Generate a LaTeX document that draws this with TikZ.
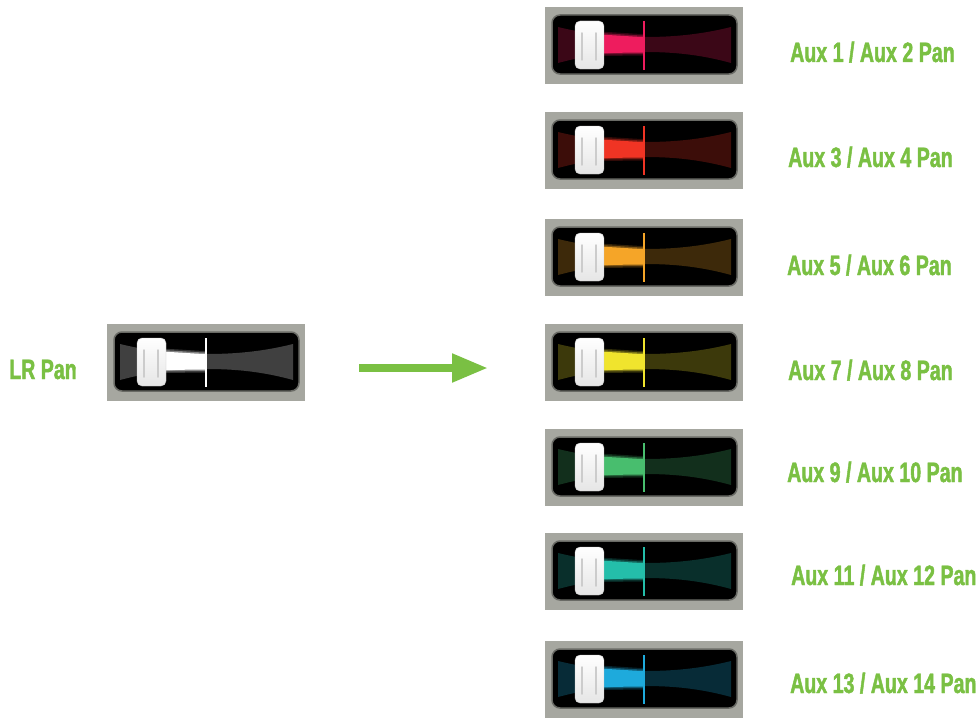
\documentclass[tikz,border=0pt]{standalone}
\usepackage{fontspec}
\newfontfamily\panfont{Liberation Sans}[FakeStretch=0.7, BoldFeatures={FakeBold=1.6}]
\usetikzlibrary{arrows.meta}

\definecolor{panelgray}{RGB}{166,167,160}
\definecolor{bezelgray}{RGB}{105,106,101}
\definecolor{labelgreen}{RGB}{122,192,67}
\definecolor{lrwhite}{RGB}{255,255,255}
\definecolor{auxpink}{RGB}{238,28,94}
\definecolor{auxred}{RGB}{240,52,36}
\definecolor{auxorange}{RGB}{245,165,40}
\definecolor{auxyellow}{RGB}{240,228,45}
\definecolor{auxgreen}{RGB}{72,190,110}
\definecolor{auxteal}{RGB}{36,190,170}
\definecolor{auxblue}{RGB}{30,170,220}

\tikzset{
  panlabel/.style={text=labelgreen, inner sep=0pt, anchor=base west,
    font=\panfont\bfseries\fontsize{28}{28}\selectfont},
  greenarrow/.style={draw=labelgreen, line width=8pt,
    -{Triangle[length=36pt, width=27pt]}}
}

\def\fanpath{(13,20) .. controls (50,29) and (80,30) .. (99,30)
  .. controls (120,30) and (150,29) .. (186,20) -- (186,56)
  .. controls (150,46) and (120,45) .. (99,45)
  .. controls (80,45) and (50,46) .. (13,56) -- cycle}
\def\brightpath{(40,27) .. controls (70,28) and (90,30) .. (99,30)
  -- (99,45.5) .. controls (90,45.5) and (70,46) .. (40,46) -- cycle}

% #1,#2: top left corner, #3: colour of the bus
\newcommand{\panstrip}[3]{%
  \begin{scope}[shift={(#1,#2)}]
    \fill[panelgray] (0,0) rectangle (198,77);
    \filldraw[fill=black, draw=bezelgray, line width=1.5pt, rounded corners=8pt]
      (7,8) rectangle (192,67);
    \fill[#3!25!black] \fanpath;
    \begin{scope}
      \clip (40,0) rectangle (99,77);
      \draw[#3, opacity=.2, line width=6pt] \brightpath;
      \draw[#3, opacity=.4, line width=3pt] \brightpath;
      \fill[#3] \brightpath;
    \end{scope}
    \draw[#3, line width=2pt] (99,14) -- (99,63);
    \shade[top color=white, bottom color=gray!20, draw=gray!45, rounded corners=5pt]
      (30,14) rectangle (59,62);
    \draw[gray!40, line width=1.5pt, line cap=round] (37,26) -- (37,53);
    \draw[gray!40, line width=1.5pt, line cap=round] (51,26) -- (51,53);
  \end{scope}}

\begin{document}
\begin{tikzpicture}[x=1pt, y=-1pt]
  \useasboundingbox (0,0) rectangle (979,717);

  \panstrip{107}{324}{lrwhite}
  \node[panlabel] (lrpan) at (9,379) {LR Pan};

  \coordinate (arrowtail) at (359,368);
  \coordinate (arrowhead) at (488,368);
  \draw[greenarrow] (arrowtail) -- (arrowhead);

  \panstrip{545}{7}{auxpink}
  \panstrip{545}{112}{auxred}
  \panstrip{545}{219}{auxorange}
  \panstrip{545}{324}{auxyellow}
  \panstrip{545}{429}{auxgreen}
  \panstrip{545}{533}{auxteal}
  \panstrip{545}{641}{auxblue}

  \node[panlabel] (aux12) at (790,62) {Aux 1 / Aux 2 Pan};
  \node[panlabel] (aux34) at (788,167) {Aux 3 / Aux 4 Pan};
  \node[panlabel] (aux56) at (787,275) {Aux 5 / Aux 6 Pan};
  \node[panlabel] (aux78) at (788,380) {Aux 7 / Aux 8 Pan};
  \node[panlabel] (aux910) at (787,482) {Aux 9 / Aux 10 Pan};
  \node[panlabel] (aux1112) at (791,585) {Aux 11 / Aux 12 Pan};
  \node[panlabel] (aux1314) at (790,693) {Aux 13 / Aux 14 Pan};
\end{tikzpicture}
\end{document}
